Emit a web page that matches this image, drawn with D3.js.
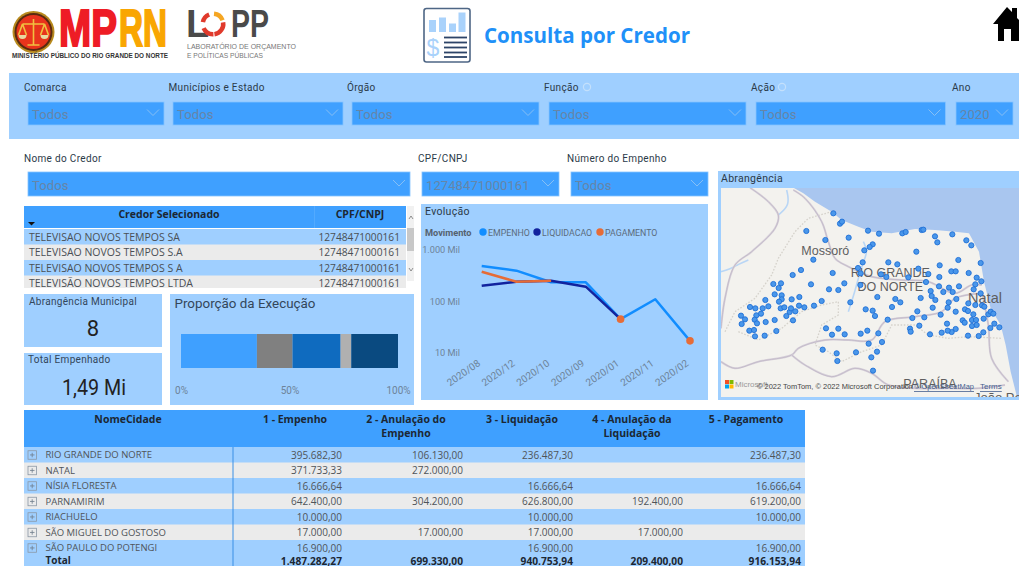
<!DOCTYPE html>
<html lang="pt-BR"><head><meta charset="utf-8">
<script src="https://cdnjs.cloudflare.com/ajax/libs/d3/7.8.5/d3.min.js"></script>
<style>html,body{margin:0;padding:0;background:#fff;overflow:hidden}svg{display:block}</style>
</head><body><svg id="c" width="1019" height="566"></svg>
<script>
// ---------- data ----------
const filterLabels = ["Comarca","Municípios e Estado","Órgão","Função","Ação","Ano"];
const filterValues = ["Todos","Todos","Todos","Todos","Todos","2020"];
const searchLabels = ["Nome do Credor","CPF/CNPJ","Número do Empenho"];
const searchValues = ["Todos","12748471000161","Todos"];
const credorNames = ["TELEVISAO NOVOS TEMPOS SA","TELEVISAO NOVOS TEMPOS S.A","TELEVISAO NOVOS TEMPOS S A","TELEVISÃO NOVOS TEMPOS LTDA"];
const credorDoc = "12748471000161";
const months = ["2020/08","2020/12","2020/10","2020/09","2020/01","2020/11","2020/02"];
const empenho = [488,396,235,235,45,110,17];
const liquidacao = [202,241,252,193,45,null,null];
const pagamento = [378,241,252,null,45,null,17];
const yTicks = [10,100,1000];
const cities = ["RIO GRANDE DO NORTE","NATAL","NÍSIA FLORESTA","PARNAMIRIM","RIACHUELO","SÃO MIGUEL DO GOSTOSO","SÃO PAULO DO POTENGI"];
const colHeaders = [["1 - Empenho"],["2 - Anulação do","Empenho"],["3 - Liquidação"],["4 - Anulação da","Liquidação"],["5 - Pagamento"]];
const colEmpenho = [395682.30,371733.33,16666.64,642400,10000,17000,16900];
const colAnulEmp = [106130,272000,null,304200,null,17000,null];
const colLiquid = [236487.30,null,16666.64,626800,10000,17000,16900];
const colAnulLiq = [null,null,null,192400,null,17000,null];
const colPagam = [236487.30,null,16666.64,619200,10000,null,16900];
const totals = [1487282.27,699330,940753.94,209400,916153.94];
const execColors = ["#3fa0ff","#808080","#0f6bbf","#b0b0b0","#0a4a80"];
const execTicks = [0,0.5,1];
const kpiMunicipal = "8";
const kpiEmpenhado = "1,49 Mi";
const mapPoints = [[355,145],[375,176],[381,170],[274,198],[331,225],[401,218],[459,197],[492,206],[562,205],[572,201],[620,195],[625,194],[660,214],[667,232],[712,208],[754,226],[769,241],[473,238],[464,246],[448,256],[604,260],[295,284],[443,292],[520,292],[547,298],[429,309],[437,325],[353,324],[258,315],[233,330],[610,311],[674,301],[730,285],[797,294],[709,319],[722,319],[761,324],[640,327],[673,336],[498,328],[514,336],[580,337],[785,338],[799,349],[781,358],[633,351],[672,364],[702,368],[732,364],[776,373],[713,381],[685,381],[647,378],[650,393],[661,405],[797,385],[175,357],[198,355],[191,369],[288,358],[388,355],[342,373],[370,375],[436,360],[179,388],[200,391],[200,403],[192,410],[151,405],[230,403],[253,396],[320,408],[406,412],[487,396],[541,402],[556,412],[617,399],[724,402],[701,412],[698,428],[653,428],[531,426],[452,433],[473,437],[480,453],[607,439],[628,457],[592,459],[518,464],[677,449],[722,440],[750,433],[759,438],[775,448],[760,415],[781,420],[801,421],[808,425],[820,448],[827,440],[835,446],[806,461],[743,466],[749,473],[771,465],[783,465],[771,483],[785,480],[838,476],[826,489],[853,487],[805,502],[791,513],[759,512],[722,492],[710,501],[698,497],[680,503],[645,508],[696,476],[613,482],[585,491],[587,500],[105,426],[121,430],[143,430],[160,424],[138,446],[124,451],[119,464],[126,475],[90,463],[78,452],[80,477],[103,497],[117,495],[120,514],[149,512],[152,471],[179,465],[184,498],[234,466],[214,453],[224,441],[228,430],[241,439],[197,430],[208,427],[252,422],[268,427],[297,422],[333,490],[351,509],[370,491],[389,508],[437,506],[457,497],[490,505],[501,531],[461,536],[486,560],[469,577],[474,617],[423,562],[365,565],[367,588],[323,554]];
const landOutline = [[0,68],[235,68],[265,85],[300,110],[350,140],[380,165],[430,185],[470,200],[530,205],[600,192],[660,195],[720,200],[762,205],[792,260],[807,350],[827,430],[857,480],[872,540],[887,620],[907,700],[0,700]];
const mapRoads = [
 [[105,68],[160,110],[190,150],[180,190],[110,260],[60,300],[30,400],[18,490]],
 [[235,75],[270,100],[320,170],[340,230],[360,280],[400,305],[470,335],[560,345],[640,350],[720,385],[770,360],[800,360]],
 [[18,590],[60,610],[130,590],[230,570],[250,550],[330,525],[400,525],[470,525],[510,470],[600,455],[680,440],[720,400],[800,385]],
 [[230,570],[270,600],[350,635],[420,610],[470,625],[520,660],[600,670],[700,670],[790,670],[870,660]],
 [[800,380],[820,480],[830,580],[880,650]]
];
const mapBorders = [
 [[30,500],[60,440],[120,400],[170,330],[190,280],[240,200],[280,160],[350,140]],
 [[70,500],[130,525],[200,490],[260,440],[320,420],[370,410],[370,450],[320,480],[300,540],[340,560],[380,590],[440,560],[500,540],[530,480],[600,480],[640,510],[700,520],[760,515],[860,520]]
];
const mapRivers = [[[400,440],[420,380],[440,300],[460,260],[445,230]],[[215,75],[225,120],[190,150]],[[18,320],[45,312],[70,298],[100,285]]];
const mapLabels = [["Mossoró",331,257],["RIO GRANDE",526,325],["DO NORTE",526,365],["Natal",810,398],["PARAÍBA",645,658]];

// ---------- helpers ----------
const svg = d3.select("#c");
const PANEL="#9fcfff", HEAD="#3fa0ff", GREY="#ebebeb";
const UI="Roboto, sans-serif", TB="'Open Sans', sans-serif";
function rect(x,y,w,h,f,p=svg){return p.append("rect").attr("x",x).attr("y",y).attr("width",w).attr("height",h).attr("fill",f);}
function txt(s,x,y,o={},p=svg){
  const t=p.append("text").attr("x",x).attr("y",y).text(s)
   .attr("font-family",o.font||UI).attr("font-size",o.size||10.5).attr("fill",o.fill||"#333")
   .attr("text-anchor",o.anchor||"start").attr("dominant-baseline",o.base||"central");
  if(o.weight)t.attr("font-weight",o.weight);
  if(o.ls)t.attr("letter-spacing",o.ls);
  if(o.len)t.attr("textLength",o.len).attr("lengthAdjust","spacingAndGlyphs");
  if(o.stroke)t.attr("stroke",o.fill).attr("stroke-width",o.stroke);
  return t;
}
function dropdown(x0,x1,y0,y1,val){
  rect(x0,y0,x1-x0,y1-y0,HEAD).attr("stroke","#86c3ff").attr("stroke-width",0.8);
  txt(val,x0+4,(y0+y1)/2+1,{size:13,fill:"#6685a8",ls:0.1});
  const cx=x1-11,cy=(y0+y1)/2-1;
  svg.append("path").attr("d",`M${cx-6},${cy-3}L${cx},${cy+3}L${cx+6},${cy-3}`).attr("fill","none").attr("stroke","#86bff5").attr("stroke-width",1);
}
const fmt = d3.formatLocale({decimal:",",thousands:".",grouping:[3],currency:["R$",""]}).format(",.2f");

// ---------- header ----------
const seal=svg.append("g").attr("transform","translate(33.5,32)");
seal.append("circle").attr("r",21).attr("fill","#b88a1e");
seal.append("circle").attr("r",19).attr("fill","#5a2a10");
seal.append("circle").attr("r",17).attr("fill","#e8341c");
seal.append("path").attr("d","M0,-13V13M-11,-8H11M-11,-8L-15,3M-11,-8L-7,3M11,-8L7,3M11,-8L15,3M-6,13H6").attr("stroke","#f0c040").attr("stroke-width",1.6).attr("fill","none");
seal.append("path").attr("d","M-15,3A4,4 0 0 0 -7,3ZM7,3A4,4 0 0 0 15,3Z").attr("fill","#e8d9a0");
txt("MP",59,28,{font:"'Liberation Sans Narrow',sans-serif",weight:700,size:52,fill:"#ee1c25",len:58,stroke:2});
txt("RN",119,28,{font:"'Liberation Sans Narrow',sans-serif",weight:700,size:52,fill:"#f9a602",len:48,stroke:2});
txt("MINISTÉRIO PÚBLICO DO RIO GRANDE DO NORTE",12,55,{size:6.4,weight:700,fill:"#333",len:156,font:"'Liberation Sans',sans-serif"});
txt("L",186,24,{font:"'Liberation Sans',sans-serif",weight:700,size:38,fill:"#4a4a4a"});
txt("PP",231,24,{font:"'Liberation Sans',sans-serif",weight:700,size:38,fill:"#4a4a4a",len:38});
const arc=d3.arc().innerRadius(8).outerRadius(12.5);
const logoArcs=[[0.1,1.2,"#f5a623"],[1.4,3.0,"#e03a2c"],[3.1,4.3,"#e03a2c"],[4.9,5.9,"#e03a2c"]];
logoArcs.forEach(a=>svg.append("path").attr("transform","translate(213,24)").attr("d",arc({startAngle:a[0],endAngle:a[1]})).attr("fill",a[2]));
txt("LABORATÓRIO DE ORÇAMENTO",187,46,{size:7.5,fill:"#777",len:109,font:"'Liberation Sans',sans-serif"});
txt("E POLÍTICAS PÚBLICAS",187,55,{size:7.5,fill:"#777",len:76,font:"'Liberation Sans',sans-serif"});

rect(424,8.5,46,53.5,"#fff").attr("rx",2.5).attr("stroke","#4e6685").attr("stroke-width",1.6);
[[429,20],[439,17.5],[449,23.5],[458.5,12.5]].forEach(b=>rect(b[0],b[1],7,32-b[1],"#a9d2fb"));
[37.5,42.5,47.5,52.5,57].forEach(y=>rect(444,y-0.9,23,1.8,"#2d4468"));
txt("$",433,48,{font:"'Liberation Sans',sans-serif",size:23,fill:"#a9d2fb",anchor:"middle"});
txt("Consulta por Credor",484,35,{font:TB,weight:700,size:21,fill:"#2090f8",len:206});
svg.append("path").attr("d","M993,24L1007,7L1012,12V8H1017V18L1023,24H1019V41H1011V29H1004V41H998V24Z").attr("fill","#000");

// ---------- filters ----------
rect(9,73,1010,66,PANEL);
const fBox=[[28,164],[173,343],[352,539],[549,746],[756,945.5],[956,1013]];
const fLab=[24,168.5,347,544,751,952];
filterLabels.forEach((l,i)=>{
  txt(l,fLab[i],87.5,{size:10,fill:"#2b3a48",ls:0.33});
  dropdown(fBox[i][0],fBox[i][1],102,125,filterValues[i]);
});
[[587,87],[782,87]].forEach(p=>svg.append("circle").attr("cx",p[0]).attr("cy",p[1]).attr("r",3.6).attr("fill","none").attr("stroke","#c4e0fb").attr("stroke-width",1.2));
const sBox=[[28,410],[422,559],[571,708]], sLab=[24,418,567];
searchLabels.forEach((l,i)=>{
  txt(l,sLab[i],158,{size:10,fill:"#2b3a48",ls:0.33});
  dropdown(sBox[i][0],sBox[i][1],172,196,searchValues[i]);
});

// ---------- credor table ----------
rect(24,206,382,22,HEAD);
rect(314,206,1,22,"#52aaff");
txt("Credor Selecionado",169,214,{font:TB,weight:700,size:10.5,fill:"#1c2733",anchor:"middle"});
txt("CPF/CNPJ",360,214,{font:TB,weight:700,size:10.5,fill:"#1c2733",anchor:"middle"});
svg.append("path").attr("d","M28,222h7l-3.5,3.5Z").attr("fill","#111");
const credorY=d3.scaleBand().domain(d3.range(credorNames.length)).range([229,291]);
svg.append("clipPath").attr("id","cc").append("rect").attr("x",24).attr("y",228).attr("width",382).attr("height",60);
const cg=svg.append("g").attr("clip-path","url(#cc)");
credorNames.forEach((n,i)=>{
  rect(24,credorY(i),382,credorY.bandwidth()+.5,i%2?GREY:PANEL,cg);
  const y=credorY(i)+credorY.bandwidth()/2;
  txt(n,29,y,{font:TB,size:10.5,fill:"#4a4f55"},cg);
  txt(credorDoc,400,y,{font:TB,size:10.2,fill:"#4a4f55",anchor:"end"},cg);
});
rect(407,206,7,75,"#f1f1f1");
rect(407,228,7,23,"#c8c8c8");
svg.append("path").attr("d","M409,219l2,-3l2,3M409,268l2,3l2,-3").attr("fill","none").attr("stroke","#666").attr("stroke-width",.7);

// ---------- KPI ----------
rect(24,294,138,53,PANEL);
rect(24,353,138,52,PANEL);
txt("Abrangência Municipal",29,301,{size:10,fill:"#33465a",ls:0.3});
txt("Total Empenhado",28,359,{size:10,fill:"#33465a",ls:0.3});
txt(kpiMunicipal,93,328,{size:22,fill:"#222",anchor:"middle"});
txt(kpiEmpenhado,62,387,{size:22,fill:"#222",len:64});

// ---------- proportion ----------
rect(170,294,244,111,PANEL);
txt("Proporção da Execução",174.5,303,{size:13.4,fill:"#33465a",len:141});
const grand=d3.sum(totals);
const xExec=d3.scaleLinear().domain([0,1]).range([181,398]);
let acc=0;
totals.forEach((v,i)=>{
  const a=acc/grand,b=(acc+v)/grand;acc+=v;
  rect(xExec(a),334,xExec(b)-xExec(a),34,execColors[i]);
});
const ax=svg.append("g").attr("transform","translate(0,384)").call(d3.axisBottom(xExec).tickValues(execTicks).tickFormat(d3.format(".0%")).tickSize(0));
ax.select(".domain").remove();
ax.selectAll("text").attr("font-family",UI).attr("font-size",10).attr("fill","#6d8399");

// ---------- evolution ----------
rect(421,204,287,196,PANEL);
txt("Evolução",425,211,{size:10.5,fill:"#2b3a48",ls:0.3});
txt("Movimento",425,232,{size:9.2,weight:700,fill:"#55626f"});
const series=[["EMPENHO",empenho,"#118DFF",483],["LIQUIDACAO",liquidacao,"#12239E",537],["PAGAMENTO",pagamento,"#E66C37",600]];
const xEv=d3.scalePoint().domain(months).range([481.7,690]);
const yEv=d3.scaleLog().domain([10,1000]).range([352.7,250]);
series.forEach(s=>{
  svg.append("circle").attr("cx",s[3]).attr("cy",232).attr("r",3.7).attr("fill",s[2]);
  txt(s[0],s[3]+5,232.5,{size:8.8,fill:"#5b6c7d"});
});
const yA=svg.append("g").attr("transform","translate(463,0)").call(d3.axisLeft(yEv).tickValues(yTicks).tickSize(0).tickFormat(d=>d3.format(",")(d).replace(",",".")+" Mil"));
yA.select(".domain").remove();
yA.selectAll("text").attr("font-family",UI).attr("font-size",9.2).attr("fill","#6d8399");
const xA=svg.append("g").attr("transform","translate(0,356)").call(d3.axisBottom(xEv).tickSize(0));
xA.select(".domain").remove();
xA.selectAll("text").attr("font-family",UI).attr("font-size",10).attr("fill","#6d8399").attr("text-anchor","end").attr("x",-6).attr("y",3).attr("dy",".35em").attr("transform","rotate(-35)");
const line=d3.line().defined(d=>d!=null).x((d,i)=>xEv(months[i])).y(d=>yEv(d));
series.forEach(s=>{
  svg.append("path").attr("d",line(s[1])).attr("fill","none").attr("stroke",s[2]).attr("stroke-width",2.5).attr("stroke-linejoin","round");
  s[1].forEach((v,i)=>{
    if(v!=null&&s[1][i-1]==null&&s[1][i+1]==null&&s[0]=="PAGAMENTO")
      svg.append("circle").attr("cx",xEv(months[i])).attr("cy",yEv(v)).attr("r",3.8).attr("fill",s[2]);
  });
});

// ---------- map ----------
rect(718,171,301,229,PANEL);
txt("Abrangência",721,178,{size:10.5,fill:"#2b3a48",ls:0.3});
const mapX=d3.scaleLinear().domain([0,912]).range([715,1019]);
const mapY=d3.scaleLinear().domain([0,720]).range([165,405]);
svg.append("clipPath").attr("id","mc").append("rect").attr("x",721).attr("y",188).attr("width",298).attr("height",209);
const mg=svg.append("g").attr("clip-path","url(#mc)");
rect(721,188,298,209,"#a9c6ef",mg);
const mline=d3.line().x(d=>mapX(d[0])).y(d=>mapY(d[1]));
mg.append("path").attr("d",mline(landOutline)+"Z").attr("fill","#f3f2ee");
mapRivers.forEach(r=>mg.append("path").attr("d",mline.curve(d3.curveBasis)(r)).attr("fill","none").attr("stroke","#b9d6f5").attr("stroke-width",1.6));
mapBorders.forEach(r=>mg.append("path").attr("d",mline.curve(d3.curveLinear)(r)).attr("fill","none").attr("stroke","#d5d2cb").attr("stroke-width",1.3).attr("stroke-dasharray","1.6 1.6"));
mapRoads.forEach(r=>{
  const d=mline.curve(d3.curveCatmullRom)(r);
  mg.append("path").attr("d",d).attr("fill","none").attr("stroke","#d6d0d9").attr("stroke-width",2);
  mg.append("path").attr("d",d).attr("fill","none").attr("stroke","#bdb3c4").attr("stroke-width",.7);
});
mapLabels.forEach(l=>txt(l[0],mapX(l[1]),mapY(l[2]),{font:"'Liberation Sans',sans-serif",size:l[0]=="Natal"?14.5:12.5,fill:"#5e5e5e",anchor:"middle"},mg));
txt("João Pessoa",974,397.5,{font:"'Liberation Sans',sans-serif",size:13,fill:"#5e5e5e"},mg);
mg.selectAll("circle.d").data(mapPoints).join("circle").attr("class","d").attr("cx",d=>mapX(d[0])).attr("cy",d=>mapY(d[1])).attr("r",2.6).attr("fill","#4a97ea").attr("stroke","#1f6fd6").attr("stroke-width",.9);
[["#f25022",725,380],["#7fba00",729.5,380],["#00a4ef",725,384.5],["#ffb900",729.5,384.5]].forEach(c=>rect(c[1],c[2],4,4,c[0],mg));
txt("Microsoft",735,384.5,{font:"'Liberation Sans',sans-serif",size:8,fill:"#9a9a9a"},mg);
txt("© 2022 TomTom, © 2022 Microsoft Corporation",757,386.5,{font:"'Liberation Sans',sans-serif",size:8,fill:"#444",len:156},mg);
txt("© OpenStreetMap",914,386.5,{font:"'Liberation Sans',sans-serif",size:8,fill:"#45608f",len:60},mg).attr("text-decoration","underline");
txt("Terms",980,386.5,{font:"'Liberation Sans',sans-serif",size:8,fill:"#45608f"},mg).attr("text-decoration","underline");

// ---------- main table ----------
rect(24,410,781,37,HEAD);
const colRight=[342,463,573,683,801], colCenter=[295,406,522,632,746];
const columns=[colEmpenho,colAnulEmp,colLiquid,colAnulLiq,colPagam];
txt("NomeCidade",128,418.5,{font:TB,weight:700,size:10.5,fill:"#1c2733",anchor:"middle"});
colHeaders.forEach((h,i)=>h.forEach((t,j)=>txt(t,colCenter[i],418.5+j*14,{font:TB,weight:700,size:10.5,fill:"#1c2733",anchor:"middle"})));
rect(24,447,781,119,PANEL);
const rowY=d3.scaleBand().domain(d3.range(cities.length)).range([447,555.5]);
svg.append("clipPath").attr("id","tc").append("rect").attr("x",24).attr("y",447).attr("width",781).attr("height",106);
const tg=svg.append("g").attr("clip-path","url(#tc)");
cities.forEach((c,i)=>{
  rect(24,rowY(i),781,rowY.bandwidth(),i%2?GREY:PANEL,tg);
  const y=rowY(i)+rowY.bandwidth()/2;
  tg.append("rect").attr("x",28).attr("y",y-4).attr("width",8.5).attr("height",8.5).attr("fill","none").attr("stroke","#8a97a5").attr("stroke-width",.8);
  tg.append("path").attr("d",`M30,${y+.2}h4.5M32.2,${y-2}v4.5`).attr("stroke","#6f7c8a").attr("stroke-width",.8);
  txt(c,45.5,y,{font:TB,size:9.5,fill:"#4f5459"},tg);
  columns.forEach((col,k)=>{ if(col[i]!=null) txt(fmt(col[i]),colRight[k],y,{font:TB,size:10,fill:"#4f5459",anchor:"end"},tg); });
});
rect(232.5,447,1,119,"#3a90e6");
txt("Total",45.5,560,{font:TB,weight:700,size:10,fill:"#1c2733"});
totals.forEach((v,k)=>txt(fmt(v),colRight[k],560.5,{font:TB,weight:700,size:10.2,fill:"#1c2733",anchor:"end"}));
</script></body></html>
